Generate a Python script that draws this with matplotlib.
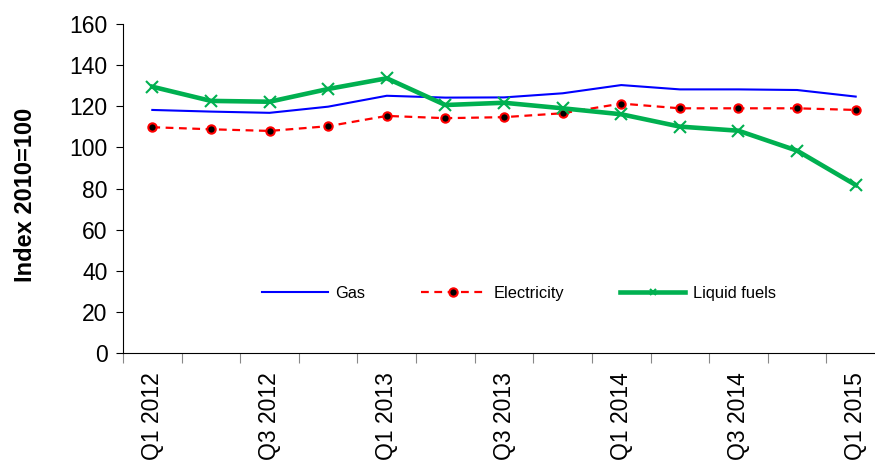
import matplotlib.pyplot as plt
import numpy as np

plt.rcParams['font.family'] = ['Liberation Sans', 'DejaVu Sans']

quarters = ['Q1 2012', 'Q2 2012', 'Q3 2012', 'Q4 2012',
            'Q1 2013', 'Q2 2013', 'Q3 2013', 'Q4 2013',
            'Q1 2014', 'Q2 2014', 'Q3 2014', 'Q4 2014',
            'Q1 2015']
gas = [118.2, 117.4, 116.8, 119.8, 125.1, 124.2, 124.3,
       126.3, 130.3, 128.2, 128.2, 127.9, 124.7]
electricity = [109.8, 108.8, 108.0, 110.3, 115.3, 114.2, 114.7,
               116.6, 121.3, 119.0, 119.0, 119.0, 118.2]
liquid_fuels = [129.5, 122.6, 122.2, 128.4, 133.6, 120.6, 121.7,
                119.0, 116.1, 110.1, 108.1, 98.4, 81.7]

x = np.arange(len(quarters))

fig = plt.figure(figsize=(8.75, 4.63), dpi=100)
# the plot area runs a little past the right edge, as in the original
ax = fig.add_axes([123 / 875, 110 / 463, 762 / 875, 329 / 463])

ax.plot(x, gas, color='#0000FF', lw=1.5, label='Gas')
ax.plot(x, electricity, color='#FF0000', lw=1.6, ls=(0, (3.5, 2.5)),
        marker='o', ms=6, mfc='black', mec='#FF0000', mew=1.5,
        label='Electricity')
ax.plot(x, liquid_fuels, color='#00B050', lw=3.3, marker='x', ms=9,
        mew=1.5, label='Liquid fuels')

ax.set_xlim(-0.5, len(quarters) - 0.5)
ax.set_ylim(0, 160)
ax.set_yticks(np.arange(0, 161, 20))
ax.tick_params(axis='y', labelsize=16.5, length=5, direction='out', pad=6)

# tick marks between categories, labels on every other quarter
ax.set_xticks(np.arange(-0.5, len(quarters), 1.0))
ax.set_xticklabels([])
ax.set_xticks(x[::2], minor=True)
ax.set_xticklabels(quarters[::2], minor=True, rotation=90, fontsize=16.5)
ax.tick_params(axis='x', which='major', length=7, color='#888888')
ax.tick_params(axis='x', which='minor', length=0, pad=14)

for s in ['top', 'right']:
    ax.spines[s].set_visible(False)

ax.set_ylabel('Index 2010=100', fontsize=17, fontweight='bold')
ax.yaxis.set_label_coords(-0.113, 0.48)

leg = fig.legend(loc='center', bbox_to_anchor=(0.593, 0.367), ncol=3,
                 frameon=False, fontsize=11.8, numpoints=1, handlelength=4,
                 handletextpad=0.45, columnspacing=3.4)
leg.legend_handles[2].set_markersize(4)

fig.savefig('out.png', dpi=100)
